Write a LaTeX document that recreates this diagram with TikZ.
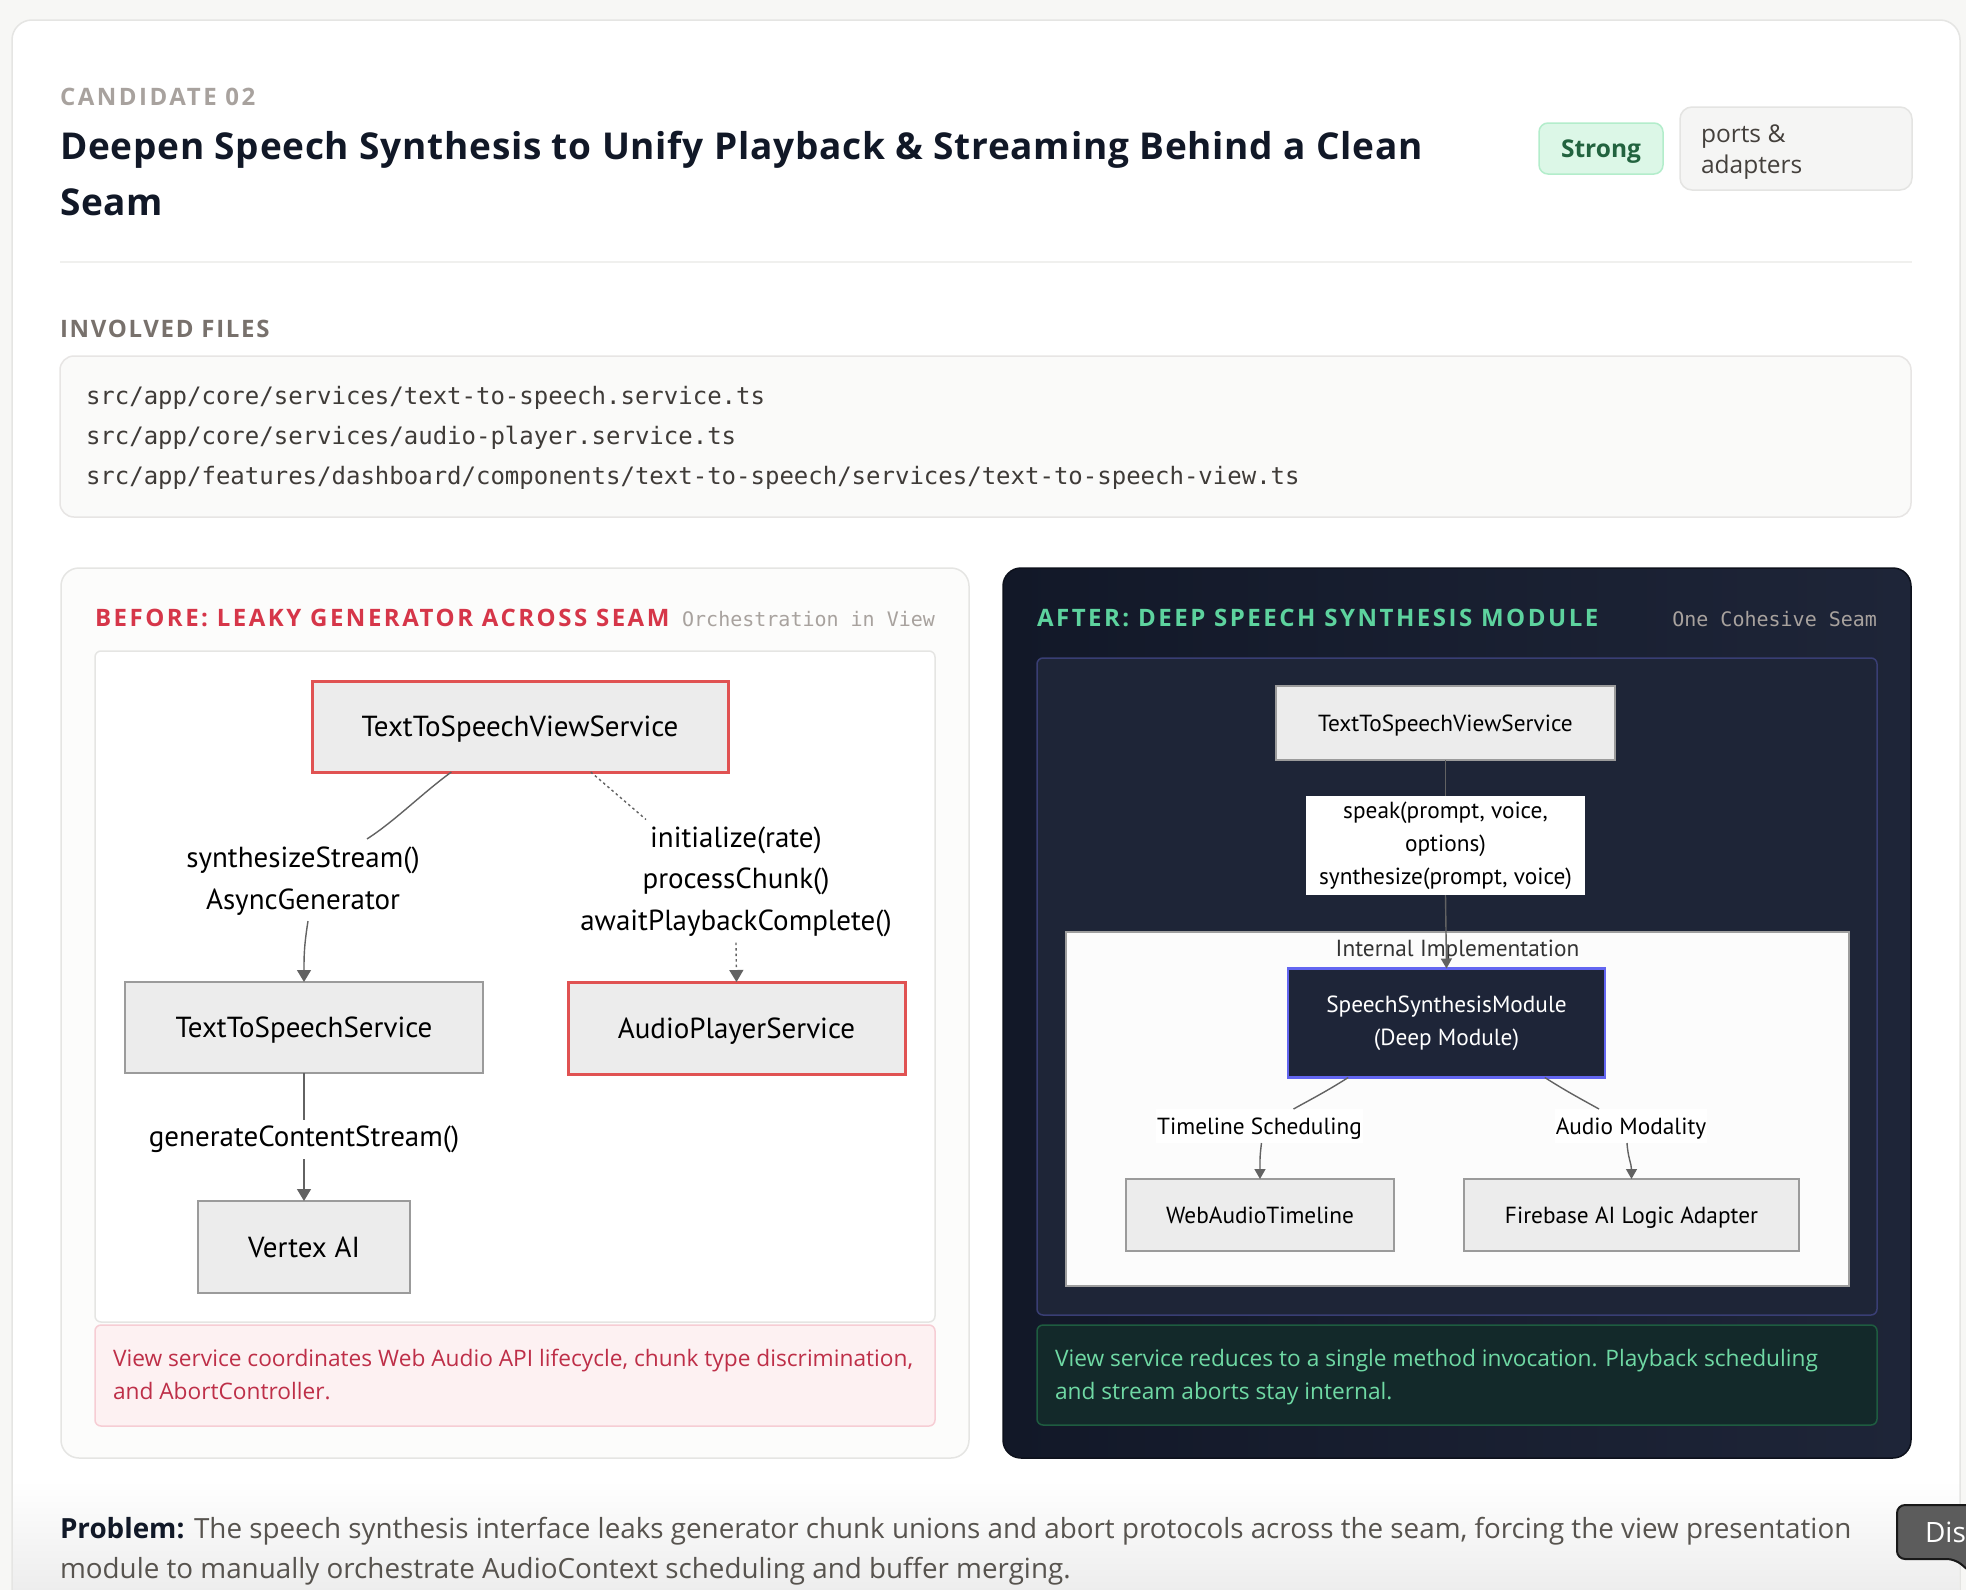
\documentclass[tikz,border=0pt]{standalone}
\usepackage{fontspec}
\setmainfont{Open Sans}
\newfontfamily\capsfont[LetterSpace=10.5]{Open Sans}
\newfontfamily\capsfontB[LetterSpace=7]{Open Sans}
\newfontfamily\titlefont[LetterSpace=2]{Open Sans}
\newfontfamily\codefont{DejaVu Sans Mono}
\newfontfamily\mmfont{PT Sans}
\usetikzlibrary{arrows.meta,calc}
\definecolor{pagebg}{HTML}{F7F7F5}
\definecolor{cardline}{HTML}{E5E5E3}
\definecolor{mutedgray}{HTML}{A8A29E}
\definecolor{labelgray}{HTML}{78716C}
\definecolor{titlenavy}{HTML}{111827}
\definecolor{strongfill}{HTML}{DCF7E7}
\definecolor{strongline}{HTML}{B3EDCB}
\definecolor{strongtext}{HTML}{22633F}
\definecolor{tagfill}{HTML}{F5F5F4}
\definecolor{tagline}{HTML}{E4E4E2}
\definecolor{tagtext}{HTML}{44403C}
\definecolor{rulegray}{HTML}{F0F0EE}
\definecolor{filesfill}{HTML}{FAFAF9}
\definecolor{filesline}{HTML}{E7E5E4}
\definecolor{codetext}{HTML}{3F3B38}
\definecolor{leftfill}{HTML}{FCFCFB}
\definecolor{crimson}{HTML}{D63649}
\definecolor{nodefill}{HTML}{ECECEC}
\definecolor{nodeline}{HTML}{9B9B9B}
\definecolor{redline}{HTML}{E05252}
\definecolor{edgegray}{HTML}{626262}
\definecolor{notefill}{HTML}{FDF1F2}
\definecolor{noteline}{HTML}{F6CDD4}
\definecolor{notetext}{HTML}{BE2F48}
\definecolor{darkA}{HTML}{121828}
\definecolor{darkB}{HTML}{1E2538}
\definecolor{darkline}{HTML}{0D111C}
\definecolor{innerfill}{HTML}{1E2537}
\definecolor{innerline}{HTML}{393E74}
\definecolor{mint}{HTML}{5DD39E}
\definecolor{clusterfill}{HTML}{FCFCFC}
\definecolor{clusterline}{HTML}{9E9E9E}
\definecolor{moduleline}{HTML}{6366F1}
\definecolor{modulefill}{HTML}{1E2538}
\definecolor{gnotefill}{HTML}{13292A}
\definecolor{gnoteline}{HTML}{1E5C40}
\definecolor{gnotetext}{HTML}{6FD9A4}
\definecolor{problemtext}{HTML}{57534E}
\definecolor{btnfill}{HTML}{5C5C5C}
\newcommand\mmL{\mmfont\fontsize{29}{41.5}\selectfont}
\newcommand\mmR{\mmfont\fontsize{23.3}{33}\selectfont}
\newcommand\capsL{\capsfont\bfseries\fontsize{24}{28}\selectfont}
\newcommand\capsI{\capsfontB\bfseries\fontsize{24}{28}\selectfont}
\newcommand\notefont{\fontsize{22.7}{33}\selectfont}
\begin{document}
\begin{tikzpicture}[x=1pt,y=-1pt,
  every node/.style={inner sep=0pt,outer sep=0pt},
  tx/.style={anchor=base west},
  lbox/.style={draw=nodeline,line width=1.6pt,fill=nodefill,font=\mmL,text=black,text depth=0pt},
  redbox/.style={lbox,draw=redline,line width=3pt},
  rbox/.style={draw=nodeline,line width=1.4pt,fill=nodefill,font=\mmR,text=black,text depth=0pt},
  elabL/.style={font=\mmL,align=center,text=black},
  elabR/.style={font=\mmR,align=center,text=black,fill=white},
  edge/.style={draw=edgegray,line width=1.4pt},
  arrowL/.style={edge,-{Triangle[width=14pt,length=12pt]}},
  arrowR/.style={edge,-{Triangle[width=11pt,length=10pt]}},
  dotedge/.style={edge,dash pattern=on 2.5pt off 3pt}]
\useasboundingbox (0,0) rectangle (1966,1590);
\fill[pagebg] (0,0) rectangle (1966,1590);
\fill[white,rounded corners=20pt] (12,20) rectangle (1960,1640);
\shade[top color=white,bottom color=black!7] (13,1480) rectangle (1959,1590);
\draw[cardline,line width=1.5pt,rounded corners=20pt] (12,1640) -- (12,20) -- (1960,20) -- (1960,1640);

% header
\node[tx,font=\capsL,text=mutedgray] (cand) at (60,105) {CANDIDATE 02};
\node[tx,font=\titlefont\bfseries\fontsize{37}{56}\selectfont,text=titlenavy] (title1) at (60,159) {Deepen Speech Synthesis to Unify Playback \& Streaming Behind a Clean};
\node[tx,font=\titlefont\bfseries\fontsize{37}{56}\selectfont,text=titlenavy] (title2) at (60,215) {Seam};
\node[draw=strongline,fill=strongfill,line width=1.5pt,rounded corners=9pt,minimum width=124pt,minimum height=51pt,text depth=0pt,text height=17.5pt,font=\bfseries\fontsize{24.5}{28}\selectfont,text=strongtext] (strong) at (1601,148.5) {Strong};
\node[draw=tagline,fill=tagfill,line width=1.5pt,rounded corners=12pt,minimum width=232pt,minimum height=83pt] (tag) at (1796,148.5) {};
\node[tx,font=\fontsize{24.5}{31}\selectfont,text=tagtext] (tag1) at (1701,142) {ports \&};
\node[tx,font=\fontsize{24.5}{31}\selectfont,text=tagtext] (tag2) at (1701,173) {adapters};
\draw[rulegray,line width=2pt] (60,262) -- (1912,262);

% files
\node[tx,font=\capsI,text=labelgray] (inv) at (60,337) {INVOLVED FILES};
\node[draw=filesline,fill=filesfill,line width=1.5pt,rounded corners=14pt,minimum width=1851pt,minimum height=161pt] (files) at (985.5,436.5) {};
\node[tx,font=\codefont\fontsize{24}{40}\selectfont,text=codetext] (f1) at (86,404) {src/app/core/services/text-to-speech.service.ts};
\node[tx,font=\codefont\fontsize{24}{40}\selectfont,text=codetext] (f2) at (86,444) {src/app/core/services/audio-player.service.ts};
\node[tx,font=\codefont\fontsize{24}{40}\selectfont,text=codetext] (f3) at (86,484) {src/app/features/dashboard/components/text-to-speech/services/text-to-speech-view.ts};

% BEFORE panel
\node[draw=cardline,fill=leftfill,line width=1.5pt,rounded corners=18pt,minimum width=908pt,minimum height=890pt] (before) at (515,1013) {};
\node[tx,font=\capsL,text=crimson] (beforeT) at (95,626) {BEFORE: LEAKY GENERATOR ACROSS SEAM};
\node[anchor=base east,font=\codefont\fontsize{20}{24}\selectfont,text=mutedgray] (beforeS) at (935,626) {Orchestration in View};
\node[draw=cardline,fill=white,line width=1.5pt,rounded corners=6pt,minimum width=840pt,minimum height=671pt] (beforeBox) at (515,986.5) {};

\node[redbox,minimum width=416pt,minimum height=91pt] (tvsL) at (520,726.5) {TextToSpeechViewService};
\node[lbox,minimum width=358pt,minimum height=91pt] (ttsL) at (304,1027.5) {TextToSpeechService};
\node[redbox,minimum width=337pt,minimum height=92pt] (apsL) at (736.5,1028) {AudioPlayerService};
\node[lbox,minimum width=212pt,minimum height=92pt] (vtxL) at (304,1247) {Vertex AI};
\node[elabL] (lblA) at (303,881) {synthesizeStream()\\AsyncGenerator};
\node[elabL] (lblB) at (736,881.5) {initialize(rate)\\processChunk()\\awaitPlaybackComplete()};
\node[elabL] (lblC) at (304,1139.5) {generateContentStream()};

\draw[edge] ($(tvsL.south west)!0.335!(tvsL.south east)$) .. controls +(-30,22) and +(28,-18) .. ($(lblA.north)+(64,-8)$);
\draw[arrowL] ($(lblA.south)+(5,6)$) .. controls +(-4,25) and +(0,-25) .. (ttsL.north);
\draw[dotedge] ($(tvsL.south west)!0.67!(tvsL.south east)$) -- ($(lblB.north)+(-90,-7)$);
\draw[dotedge,-{Triangle[width=14pt,length=12pt]}] ($(lblB.south)+(0,6)$) -- (apsL.north);
\draw[edge] (ttsL.south) -- ($(lblC.north)+(0,-6)$);
\draw[arrowL] ($(lblC.south)+(0,6)$) -- (vtxL.north);

\node[draw=noteline,fill=notefill,line width=1.5pt,rounded corners=6pt,minimum width=840pt,minimum height=101pt] (noteL) at (515,1375.5) {};
\node[tx,font=\notefont,text=notetext] (noteL1) at (113,1366.5) {View service coordinates Web Audio API lifecycle, chunk type discrimination,};
\node[tx,font=\notefont,text=notetext] (noteL2) at (113,1399) {and AbortController.};

% AFTER panel
\shade[left color=darkA,right color=darkB,rounded corners=18pt] (1003,568) rectangle (1911,1458);
\draw[darkline,line width=1.5pt,rounded corners=18pt] (1003,568) rectangle (1911,1458);
\node[tx,font=\capsL,text=mint] (afterT) at (1037,626) {AFTER: DEEP SPEECH SYNTHESIS MODULE};
\node[anchor=base east,font=\codefont\fontsize{20}{24}\selectfont,text=mutedgray] (afterS) at (1877,626) {One Cohesive Seam};
\node[draw=innerline,fill=innerfill,line width=1.5pt,rounded corners=6pt,minimum width=840pt,minimum height=657pt] (afterBox) at (1457,986.5) {};

\node[rbox,minimum width=339pt,minimum height=74pt] (tvsR) at (1445.5,723) {TextToSpeechViewService};
\node[elabR,minimum width=279pt,minimum height=99pt] (lblR) at (1445.5,845.5) {speak(prompt, voice,\\options)\\synthesize(prompt, voice)};
\node[draw=clusterline,fill=clusterfill,line width=1.4pt,minimum width=783pt,minimum height=354pt] (cluster) at (1457.5,1109) {};
\node[font=\mmR,text=black!80] (clusterT) at (1457.5,951) {Internal Implementation};
\node[draw=moduleline,fill=modulefill,line width=2.5pt,minimum width=317pt,minimum height=109pt,font=\mmR,text=white,align=center] (srm) at (1446.5,1023) {SpeechSynthesisModule\\(Deep Module)};
\node[rbox,minimum width=268pt,minimum height=72pt] (wat) at (1260,1215) {WebAudioTimeline};
\node[rbox,minimum width=335pt,minimum height=72pt] (fba) at (1631.5,1215) {Firebase AI Logic Adapter};
\node[elabR,minimum height=34pt,inner xsep=1pt,text depth=0pt] (lblT) at (1259.5,1126) {Timeline Scheduling};
\node[elabR,minimum height=34pt,inner xsep=1pt,text depth=0pt] (lblM) at (1631,1126) {Audio Modality};

\draw[edge] (tvsR.south) -- (lblR.north);
\draw[arrowR] (lblR.south) -- (srm.north);
\draw[edge] ($(srm.south west)!0.19!(srm.south east)$) .. controls +(-22,14) and +(18,-10) .. ($(lblT.north)+(34,0)$);
\draw[arrowR] ($(lblT.south)+(2,0)$) .. controls +(-2,15) and +(0,-15) .. (wat.north);
\draw[edge] ($(srm.south west)!0.81!(srm.south east)$) .. controls +(22,14) and +(-18,-10) .. ($(lblM.north)+(-32,0)$);
\draw[arrowR] ($(lblM.south)+(-4,0)$) .. controls +(1,15) and +(0,-15) .. (fba.north);

\node[draw=gnoteline,fill=gnotefill,line width=1.5pt,rounded corners=6pt,minimum width=840pt,minimum height=100pt] (noteR) at (1457,1375) {};
\node[tx,font=\notefont,text=gnotetext] (noteR1) at (1055,1366.5) {View service reduces to a single method invocation. Playback scheduling};
\node[tx,font=\notefont,text=gnotetext] (noteR2) at (1055,1399) {and stream aborts stay internal.};

% problem
\node[tx,font=\fontsize{27.8}{40}\selectfont,text=problemtext] (prob1) at (60,1538) {\textcolor{titlenavy}{\bfseries Problem:} The speech synthesis interface leaks generator chunk unions and abort protocols across the seam, forcing the view presentation};
\node[tx,font=\fontsize{27.8}{40}\selectfont,text=problemtext] (prob2) at (60,1578) {module to manually orchestrate AudioContext scheduling and buffer merging.};

% button
\draw[black!90,line width=2pt,fill=btnfill,rounded corners=8pt] (1990,1505) -- (1897,1505) -- (1897,1559) -- (1955,1559) [sharp corners] -- (1968,1570) -- (1990,1570);
\node[tx,font=\fontsize{28}{32}\selectfont,text=white] (btn) at (1925,1542) {Dis};
\end{tikzpicture}
\end{document}
